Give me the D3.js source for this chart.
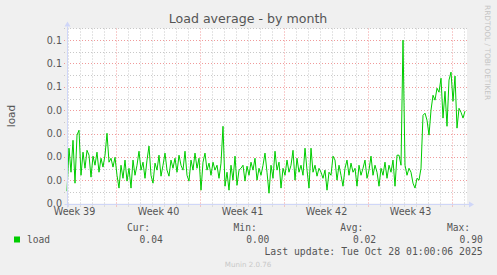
<!DOCTYPE html>
<html>
<head>
<meta charset="utf-8">
<script src="https://cdn.jsdelivr.net/npm/d3@7"></script>
<style>
  body { margin: 0; background: #f0f0f0; }
  svg { display: block; }
</style>
</head>
<body>
<div id="chart"></div>
<script>
// load average, one sample every 4 hours
const startTime = Date.UTC(2025, 8, 24, 22)
const stepHours = 4
const loadValues = [
  0.0053, 0.0237, 0.0134, 0.0271, 0.0087, 0.0293, 0.0314, 0.0121, 0.0220, 0.0151,
  0.0228, 0.0207, 0.0113, 0.0203, 0.0164, 0.0220, 0.0134, 0.0194, 0.0156, 0.0207,
  0.0301, 0.0177, 0.0194, 0.0156, 0.0198, 0.0121, 0.0066, 0.0164, 0.0108, 0.0186,
  0.0096, 0.0151, 0.0066, 0.0186, 0.0121, 0.0164, 0.0224, 0.0143, 0.0177, 0.0108,
  0.0186, 0.0246, 0.0121, 0.0087, 0.0173, 0.0143, 0.0207, 0.0117, 0.0164, 0.0216,
  0.0143, 0.0117, 0.0186, 0.0151, 0.0194, 0.0134, 0.0207, 0.0164, 0.0143, 0.0224,
  0.0121, 0.0096, 0.0186, 0.0143, 0.0216, 0.0151, 0.0194, 0.0057, 0.0177, 0.0216,
  0.0143, 0.0173, 0.0121, 0.0177, 0.0143, 0.0164, 0.0108, 0.0173, 0.0331, 0.0074,
  0.0134, 0.0057, 0.0164, 0.0100, 0.0203, 0.0078, 0.0143, 0.0151, 0.0164, 0.0096,
  0.0160, 0.0121, 0.0177, 0.0143, 0.0194, 0.0100, 0.0151, 0.0121, 0.0164, 0.0216,
  0.0134, 0.0044, 0.0164, 0.0108, 0.0224, 0.0143, 0.0177, 0.0066, 0.0151, 0.0121,
  0.0186, 0.0134, 0.0164, 0.0228, 0.0100, 0.0194, 0.0134, 0.0164, 0.0121, 0.0237,
  0.0143, 0.0066, 0.0237, 0.0134, 0.0164, 0.0117, 0.0151, 0.0134, 0.0108, 0.0143,
  0.0057, 0.0134, 0.0121, 0.0203, 0.0186, 0.0100, 0.0164, 0.0121, 0.0074, 0.0151,
  0.0186, 0.0121, 0.0173, 0.0134, 0.0151, 0.0074, 0.0164, 0.0121, 0.0151, 0.0186,
  0.0108, 0.0143, 0.0203, 0.0121, 0.0164, 0.0134, 0.0074, 0.0151, 0.0121, 0.0177,
  0.0108, 0.0164, 0.0134, 0.0186, 0.0074, 0.0207, 0.0207, 0.0164, 0.0700, 0.0164,
  0.0121, 0.0151, 0.0134, 0.0087, 0.0066, 0.0108, 0.0100, 0.0151, 0.0378, 0.0387,
  0.0357, 0.0293, 0.0400, 0.0464, 0.0443, 0.0494, 0.0477, 0.0537, 0.0366, 0.0481,
  0.0331, 0.0529, 0.0563, 0.0438, 0.0546, 0.0323, 0.0408, 0.0391, 0.0366, 0.0396
]

// x axis: weeks (monday starts) and their labels
const weekStarts = [
  Date.UTC(2025, 8, 22), Date.UTC(2025, 8, 29), Date.UTC(2025, 9, 6),
  Date.UTC(2025, 9, 13), Date.UTC(2025, 9, 20), Date.UTC(2025, 9, 27)
]
const weekLabels = ["Week 39", "Week 40", "Week 41", "Week 42", "Week 43"]
const timeDomain = [Date.UTC(2025, 8, 24, 22), Date.UTC(2025, 9, 28, 6)]

// y axis
const yTicks = [0, 0.01, 0.02, 0.03, 0.04, 0.05, 0.06, 0.07]
const yTickLabels = ["0.0", "0.0", "0.0", "0.0", "0.0", "0.1", "0.1", "0.1"]
const yMax = 0.075

// legend
const legendHeaders = ["Cur:", "Min:", "Avg:", "Max:"]
const legendValues = ["0.04", "0.00", "0.02", "0.90"]
const lastUpdate = "Last update: Tue Oct 28 01:00:06 2025"

const W = 497, H = 275
const margin = {top: 28.5, left: 67, width: 400, height: 175}

const lineColor = "#00cc00"
const textColor = "#555555"
const axisColor = "#cfd6f8"

const svg = d3.select("#chart")
  .append("svg")
    .attr("width", W)
    .attr("height", H)
    .style("font-family", "'DejaVu Sans', sans-serif")

svg.append("rect")
  .attr("width", W).attr("height", H)
  .attr("fill", "#f0f0f0")

const x = d3.scaleUtc()
  .domain(timeDomain)
  .range([margin.left, margin.left + margin.width])

const y = d3.scaleLinear()
  .domain([0, yMax])
  .range([margin.top + margin.height, margin.top])

const crisp = v => Math.round(v) + 0.5

// canvas
svg.append("rect")
  .attr("x", margin.left)
  .attr("y", margin.top)
  .attr("width", margin.width)
  .attr("height", margin.height)
  .attr("fill", "#ffffff")

//////////
// GRID //
//////////
const days = d3.utcDay.range(new Date(timeDomain[0]), new Date(timeDomain[1]))
const weekSet = new Set(weekStarts)
const minorDays = days.filter(d => !weekSet.has(+d) && x(d) > margin.left + 0.5)
const majorDays = weekStarts.filter(d => d > timeDomain[0] && d < timeDomain[1])

const yMinor = d3.range(0.005, yMax + 0.001, 0.01)

const grid = svg.append("g")
grid.selectAll(".vminor")
  .data(minorDays)
  .join("line")
    .attr("x1", d => crisp(x(d))).attr("x2", d => crisp(x(d)))
    .attr("y1", margin.top).attr("y2", margin.top + margin.height + 3)
    .attr("stroke", "#c8c8c8")
    .attr("stroke-dasharray", "1,2")
grid.selectAll(".hminor")
  .data(yMinor)
  .join("line")
    .attr("x1", margin.left - 3).attr("x2", margin.left + margin.width)
    .attr("y1", d => crisp(y(d))).attr("y2", d => crisp(y(d)))
    .attr("stroke", "#c8c8c8")
    .attr("stroke-dasharray", "1,2")
grid.selectAll(".vmajor")
  .data(majorDays)
  .join("line")
    .attr("x1", d => crisp(x(d))).attr("x2", d => crisp(x(d)))
    .attr("y1", margin.top).attr("y2", margin.top + margin.height + 3)
    .attr("stroke", "#f09a9a")
    .attr("stroke-dasharray", "1,2")
grid.selectAll(".hmajor")
  .data(yTicks.slice(1))
  .join("line")
    .attr("x1", margin.left - 3).attr("x2", margin.left + margin.width)
    .attr("y1", d => crisp(y(d))).attr("y2", d => crisp(y(d)))
    .attr("stroke", "#f09a9a")
    .attr("stroke-dasharray", "1,2")

//////////
// AXIS //
//////////
const yAxis = svg.append("g")
  .attr("transform", `translate(${margin.left - 5}, 0)`)
  .call(d3.axisLeft(y)
    .tickValues(yTicks)
    .tickFormat((d, i) => yTickLabels[i])
    .tickSize(0)
    .tickPadding(0))
yAxis.select(".domain").remove()
yAxis.selectAll("text")
  .attr("fill", textColor)
  .style("font-size", "9.6px")
  .style("font-family", "'DejaVu Sans', sans-serif")

const weekMids = weekLabels.map((l, i) => new Date((weekStarts[i] + weekStarts[i + 1]) / 2))
const xAxis = svg.append("g")
  .attr("transform", `translate(0, ${margin.top + margin.height + 4})`)
  .call(d3.axisBottom(x)
    .tickValues(weekMids)
    .tickFormat((d, i) => weekLabels[i])
    .tickSize(0)
    .tickPadding(1))
xAxis.select(".domain").remove()
xAxis.selectAll("text")
  .attr("fill", textColor)
  .style("font-size", "9.6px")
  .style("font-family", "'DejaVu Sans', sans-serif")

//////////
// LINE //
//////////
const series = loadValues.map((v, i) => ({time: startTime + i * stepHours * 3600 * 1000, value: v}))

svg.append("path")
  .datum(series)
  .attr("fill", "none")
  .attr("stroke", lineColor)
  .attr("stroke-width", 1)
  .attr("d", d3.line()
    .x(d => x(d.time))
    .y(d => y(d.value)))

// axis lines and arrows
const x0 = crisp(margin.left), yb = crisp(y(0))
svg.append("line")
  .attr("x1", x0).attr("x2", x0)
  .attr("y1", margin.top - 2).attr("y2", yb + 3)
  .attr("stroke", axisColor)
svg.append("line")
  .attr("x1", x0 - 3).attr("x2", margin.left + margin.width + 2)
  .attr("y1", yb).attr("y2", yb)
  .attr("stroke", axisColor)
svg.append("path")
  .attr("d", `M${x0 - 3},${margin.top - 2} L${x0 + 3},${margin.top - 2} L${x0},${margin.top - 7} Z`)
  .attr("fill", axisColor)
const xr = margin.left + margin.width + 2
svg.append("path")
  .attr("d", `M${xr},${yb - 3} L${xr},${yb + 3} L${xr + 5},${yb} Z`)
  .attr("fill", axisColor)

//////////
// TEXTS //
//////////
svg.append("text")
  .attr("x", 248).attr("y", 23)
  .attr("text-anchor", "middle")
  .attr("fill", textColor)
  .style("font-size", "12.6px")
  .text("Load average - by month")

svg.append("text")
  .attr("transform", `translate(15, ${margin.top + margin.height / 2}) rotate(-90)`)
  .attr("text-anchor", "middle")
  .attr("fill", textColor)
  .style("font-size", "10.5px")
  .text("load")

svg.append("text")
  .attr("transform", "translate(484.5, 5) rotate(90)")
  .attr("fill", "#c4c4c4")
  .style("font-size", "7.4px")
  .text("RRDTOOL / TOBI OETIKER")

//////////
// LEGEND //
//////////
const mono = "'DejaVu Sans Mono', monospace"
const colRight = [150, 256.7, 363.4, 470]

svg.append("rect")
  .attr("x", 14).attr("y", 236.5)
  .attr("width", 6).attr("height", 6)
  .attr("fill", lineColor)
svg.append("text")
  .attr("x", 27).attr("y", 243)
  .attr("fill", textColor)
  .style("font-family", mono)
  .style("font-size", "9.6px")
  .text("load")

svg.selectAll(".lhead")
  .data(legendHeaders)
  .join("text")
    .attr("x", (d, i) => colRight[i])
    .attr("y", 231)
    .attr("text-anchor", "end")
    .attr("fill", textColor)
    .style("font-family", mono)
    .style("font-size", "9.6px")
    .text(d => d)

svg.selectAll(".lval")
  .data(legendValues)
  .join("text")
    .attr("x", (d, i) => colRight[i] + 12.7)
    .attr("y", 243)
    .attr("text-anchor", "end")
    .attr("fill", textColor)
    .style("font-family", mono)
    .style("font-size", "9.6px")
    .text(d => d)

svg.append("text")
  .attr("x", 482.7).attr("y", 255)
  .attr("text-anchor", "end")
  .attr("fill", textColor)
  .style("font-family", mono)
  .style("font-size", "9.8px")
  .text(lastUpdate)

svg.append("text")
  .attr("x", 248).attr("y", 266.5)
  .attr("text-anchor", "middle")
  .attr("fill", "#c8c8c8")
  .style("font-size", "7.1px")
  .text("Munin 2.0.76")
</script>
</body>
</html>
